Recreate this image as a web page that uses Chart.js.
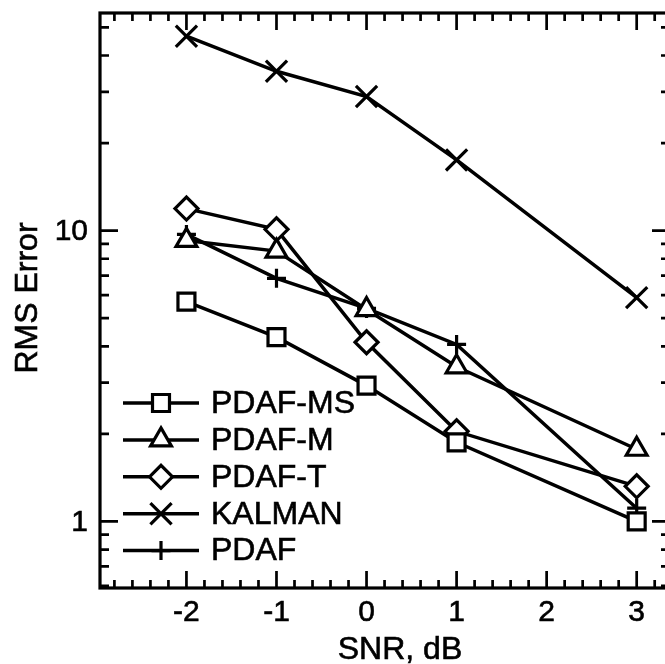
<!DOCTYPE html>
<html>
<head>
<meta charset="utf-8">
<script src="https://cdn.jsdelivr.net/npm/chart.js@4/dist/chart.umd.min.js"></script>
<style>
  html, body { margin: 0; padding: 0; background: #fff; overflow: hidden; }
  #wrap { width: 673px; height: 664px; position: relative; }
</style>
</head>
<body>
<div id="wrap"><canvas id="myChart"></canvas></div>
<script>
// RMS error against SNR for each tracker
const snr = [-2, -1, 0, 1, 3];
const pdafMS = [5.7, 4.3, 2.93, 1.87, 1.0];
const pdafM = [9.25, 8.5, 5.35, 3.4, 1.77];
const pdafT = [11.9, 10.1, 4.13, 2.04, 1.32];
const kalman = [46.6, 35.3, 28.9, 17.5, 5.88];
const pdaf = [9.7, 6.85, 5.4, 4.06, 1.11];

const xLabels = [-2, -1, 0, 1, 2, 3];
const yLabels = [1, 10];

const fontFamily = '"Liberation Sans", Arial, Helvetica, sans-serif';

function serie(label, data, style, radius) {
  return {
    label: label,
    data: snr.map((s, i) => ({ x: s, y: data[i] })),
    borderColor: "#000",
    borderWidth: 3.5,
    pointStyle: style,
    pointRadius: radius,
    pointHoverRadius: radius,
    pointBackgroundColor: "#fff",
    pointBorderColor: "#000",
    pointBorderWidth: 3.2,
    fill: false,
    tension: 0,
  };
}

const datasets = [
  serie("PDAF-MS", pdafMS, "rect", 12),
  serie("PDAF-M", pdafM, "triangle", 12),
  serie("PDAF-T", pdafT, "rectRot", 11.5),
  serie("KALMAN", kalman, "crossRot", 15),
  serie("PDAF", pdaf, "cross", 9.5),
];

// text a little heavier, like the printed figure
function texto(ctx, str, x, y) {
  ctx.fillText(str, x, y);
  ctx.strokeText(str, x, y);
}

// box with inward ticks on all four sides
const marcoTicks = {
  id: "marcoTicks",
  afterDatasetsDraw(chart) {
    const { ctx, chartArea: a, scales } = chart;
    const x = scales.x;
    const y = scales.y;
    ctx.save();
    ctx.strokeStyle = "#000";
    ctx.lineCap = "butt";

    ctx.lineWidth = 2.7;
    ctx.beginPath();
    for (let k = -14; k <= 16; k++) {
      const v = k / 5;
      const px = x.getPixelForValue(v);
      if (px < a.left + 2 || px > a.right - 2) continue;
      const len = k % 5 === 0 ? 17 : 8;
      ctx.moveTo(px, a.bottom);
      ctx.lineTo(px, a.bottom - len);
      ctx.moveTo(px, a.top);
      ctx.lineTo(px, a.top + len);
    }
    for (let dec = 0.1; dec <= 10; dec *= 10) {
      for (let m = 1; m <= 9; m++) {
        const v = m * dec;
        const py = y.getPixelForValue(v);
        if (py < a.top + 2 || py > a.bottom - 2) continue;
        const len = m === 1 ? 18 : 9;
        ctx.moveTo(a.left, py);
        ctx.lineTo(a.left + len, py);
        ctx.moveTo(a.right, py);
        ctx.lineTo(a.right - len, py);
      }
    }
    ctx.stroke();

    ctx.lineWidth = 3.2;
    ctx.strokeRect(a.left, a.top, a.right - a.left, a.bottom - a.top);
    ctx.restore();
  },
};

// tick labels and axis titles, placed from the scales
const rotulos = {
  id: "rotulos",
  afterDraw(chart) {
    const { ctx, chartArea: a, scales } = chart;
    ctx.save();
    ctx.fillStyle = "#000";
    ctx.strokeStyle = "#000";
    ctx.lineWidth = 0.6;

    ctx.font = "30px " + fontFamily;
    ctx.textAlign = "center";
    ctx.textBaseline = "middle";
    xLabels.forEach((v) => {
      texto(ctx, String(v), scales.x.getPixelForValue(v), a.bottom + 25);
    });
    ctx.textAlign = "right";
    yLabels.forEach((v) => {
      texto(ctx, String(v), a.left - 12, scales.y.getPixelForValue(v) + 1);
    });

    ctx.font = "32px " + fontFamily;
    ctx.textAlign = "center";
    texto(ctx, "SNR, dB", 400, 650);

    ctx.save();
    ctx.translate(28, 298);
    ctx.rotate(-Math.PI / 2);
    texto(ctx, "RMS Error", 0, 0);
    ctx.restore();
    ctx.restore();
  },
};

// legend box in the lower left: line, marker, name
const leyenda = {
  id: "leyenda",
  afterDraw(chart) {
    const ctx = chart.ctx;
    ctx.save();
    ctx.font = "32px " + fontFamily;
    ctx.textBaseline = "middle";
    ctx.textAlign = "left";
    chart.data.datasets.forEach((ds, i) => {
      const yy = 403 + i * 36.9;
      ctx.strokeStyle = "#000";
      ctx.lineWidth = 3.5;
      ctx.beginPath();
      ctx.moveTo(123, yy);
      ctx.lineTo(199, yy);
      ctx.stroke();
      ctx.fillStyle = "#fff";
      ctx.lineWidth = 3.2;
      Chart.helpers.drawPoint(ctx, {
        pointStyle: ds.pointStyle,
        radius: ds.pointRadius,
        rotation: 0,
        borderWidth: 3.2,
      }, 161, yy);
      ctx.fillStyle = "#000";
      ctx.lineWidth = 0.6;
      texto(ctx, ds.label, 211, yy + 1);
    });
    ctx.restore();
  },
};

const ctx = document.getElementById("myChart");
new Chart(ctx, {
  type: "line",
  data: { datasets: datasets },
  plugins: [marcoTicks, rotulos, leyenda],
  options: {
    responsive: true,
    maintainAspectRatio: false,
    animation: false,
    layout: {
      autoPadding: false,
      padding: { top: 13, right: 3, left: 0, bottom: 0 },
    },
    plugins: {
      legend: { display: false },
      tooltip: { enabled: false },
    },
    scales: {
      x: {
        type: "linear",
        min: -2.96,
        max: 3.37,
        afterFit: (scale) => {
          scale.height = 76;
        },
        grid: { display: false, drawTicks: false },
        border: { display: false },
        ticks: { display: false },
      },
      y: {
        type: "logarithmic",
        min: 0.59,
        max: 56,
        afterFit: (scale) => {
          scale.width = 100;
        },
        grid: { display: false, drawTicks: false },
        border: { display: false },
        ticks: { display: false },
      },
    },
  },
});
</script>
</body>
</html>
